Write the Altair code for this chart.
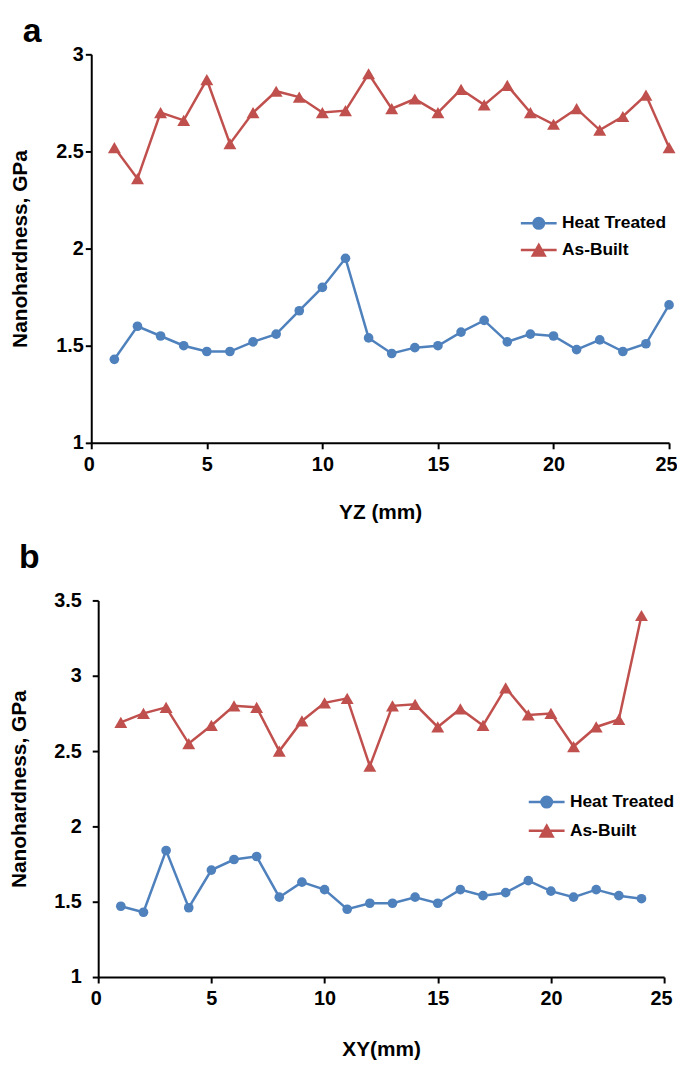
import altair as alt
import pandas as pd

FONT = "Liberation Sans"
BLUE = "#4F81BD"
RED = "#C0504D"
SERIES = ["Heat Treated", "As-Built"]

# Panel a (YZ)
yz_pos = list(range(1, 26))
yz_heat = [1.43, 1.60, 1.55, 1.50, 1.47, 1.47, 1.52, 1.56, 1.68, 1.80, 1.95, 1.54, 1.46,
           1.49, 1.50, 1.57, 1.63, 1.52, 1.56, 1.55, 1.48, 1.53, 1.47, 1.51, 1.71]
yz_built = [2.52, 2.36, 2.70, 2.66, 2.87, 2.54, 2.70, 2.81, 2.78, 2.70, 2.71, 2.90, 2.72,
            2.77, 2.70, 2.82, 2.74, 2.84, 2.70, 2.64, 2.72, 2.61, 2.68, 2.79, 2.52]

# Panel b (XY)
xy_pos = list(range(1, 25))
xy_heat = [1.47, 1.43, 1.84, 1.46, 1.71, 1.78, 1.80, 1.53, 1.63, 1.58, 1.45, 1.49,
           1.49, 1.53, 1.49, 1.58, 1.54, 1.56, 1.64, 1.57, 1.53, 1.58, 1.54, 1.52]
xy_built = [2.69, 2.75, 2.79, 2.55, 2.67, 2.80, 2.79, 2.50, 2.70, 2.82, 2.85, 2.40,
            2.80, 2.81, 2.66, 2.78, 2.67, 2.92, 2.74, 2.75, 2.53, 2.66, 2.71, 3.40]

x_ticks = [0, 5, 10, 15, 20, 25]
a_y_ticks = [1, 1.5, 2, 2.5, 3]
b_y_ticks = [1, 1.5, 2, 2.5, 3, 3.5]

# legend symbols: short line with the marker in the middle
HT_PATH = "M-1.29,0H-0.38M0.38,0H1.29M-0.38,0A0.38,0.38,0,1,0,0.38,0A0.38,0.38,0,1,0,-0.38,0Z"
AB_PATH = "M-1.29,0H1.29M0,-0.37L0.43,0.4L-0.43,0.4Z"


def long_df(pos, heat, built):
    return pd.DataFrame({
        "pos": pos + pos,
        "val": heat + built,
        "series": ["Heat Treated"] * len(pos) + ["As-Built"] * len(pos),
    })


def panel(df, label, xtitle, yticks, ymax, w, h, x_range, y_offset, y_label_pad,
          y_title_pad, x_title_pad, leg_x, leg_y, leg_row_pad, label_x, label_y):
    cs = alt.Scale(domain=SERIES, range=[BLUE, RED])
    x = alt.X("pos:Q", scale=alt.Scale(domain=[0, 25], nice=False, zero=False, range=x_range),
              axis=alt.Axis(values=x_ticks, title=xtitle, labelPadding=6,
                            titlePadding=x_title_pad, format="~g",
                            labelFlush=True, labelFlushOffset=8))
    y = alt.Y("val:Q", scale=alt.Scale(domain=[1, ymax], nice=False, zero=False),
              axis=alt.Axis(values=yticks, title="Nanohardness, GPa", offset=y_offset,
                            labelPadding=y_label_pad, titlePadding=y_title_pad,
                            format="~g"))
    base = alt.Chart(df)
    heat = base.transform_filter(alt.datum.series == "Heat Treated")
    built = base.transform_filter(alt.datum.series == "As-Built")
    line_heat = heat.mark_line(strokeWidth=2.5, color=BLUE).encode(x=x, y=y)
    line_built = built.mark_line(strokeWidth=2.5, color=RED).encode(x=x, y=y)
    circles = heat.mark_point(shape="circle", filled=True, size=95, opacity=1,
                              color=BLUE).encode(x=x, y=y)
    tris = built.mark_point(shape="triangle-up", filled=True, size=170, opacity=1,
                            color=RED).encode(x=x, y=y)
    leg = alt.Legend(title=None, orient="none", legendX=leg_x, legendY=leg_y, padding=0,
                     symbolSize=784, symbolStrokeWidth=2.5, labelOffset=8,
                     rowPadding=leg_row_pad, labelFont=FONT, labelFontSize=17.5,
                     labelFontWeight="bold", labelColor="black", symbolOpacity=1)
    legend_layer = base.mark_point(filled=True, opacity=0, size=1).encode(
        x=x, y=y,
        fill=alt.Fill("series:N", scale=cs, legend=leg),
        stroke=alt.Stroke("series:N", scale=cs, legend=leg),
        shape=alt.Shape("series:N", scale=alt.Scale(domain=SERIES, range=[HT_PATH, AB_PATH]),
                        legend=leg),
    )
    tag = alt.Chart(pd.DataFrame({"label": [label]})).mark_text(
        font=FONT, fontSize=34, fontWeight="bold", color="black", align="left",
        baseline="alphabetic").encode(text="label:N", x=alt.value(label_x),
                                      y=alt.value(label_y))
    return alt.layer(line_heat, line_built, circles, tris, legend_layer, tag).properties(
        width=w, height=h)


pa = panel(long_df(yz_pos, yz_heat, yz_built), "a", "YZ (mm)", a_y_ticks, 3,
           583, 392, [0, 583], 0, 2, 26, 27, 436, 155, 1, -69, -12)
pb = panel(long_df(xy_pos, xy_heat, xy_built), "b", "XY(mm)", b_y_ticks, 3.5,
           578, 380, [7, 578], -7, 11, 25, 30, 444, 188, 3, -73, -33)

chart = alt.vconcat(pa, pb, spacing=19).resolve_scale(
    fill="independent", stroke="independent", shape="independent"
).properties(
    padding={"top": 3, "left": 0, "right": 0, "bottom": 0}
).configure_axis(
    domainColor="black", domainWidth=2, tickColor="black", tickWidth=2, tickSize=6,
    grid=False, labelFont=FONT, labelFontSize=20, labelFontWeight="bold",
    labelColor="black", titleFont=FONT, titleFontSize=21, titleFontWeight="bold",
    titleColor="black",
).configure_view(stroke=None)

chart.save("out.html", embed_options={"renderer": "svg", "actions": False})
